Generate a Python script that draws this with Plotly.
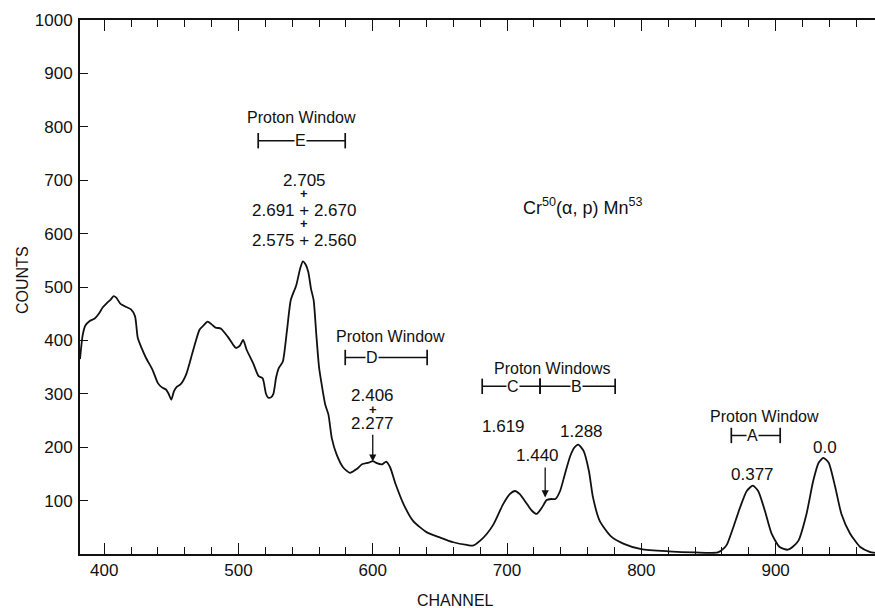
import plotly.graph_objects as go

# Proton spectrum from Cr50(alpha, p) Mn53: counts per analyser channel
channel = [382, 384, 386, 389, 393, 396, 399, 402, 405, 407, 409, 412, 416, 420, 423,
           425, 428, 431, 436, 440, 443, 446, 448, 450, 452, 454, 457, 461, 466, 471,
           474, 477, 480, 483, 487, 492, 496, 498, 501, 503.5, 506, 511, 515, 518, 520.5,
           522, 524, 526, 528, 530, 533, 536, 539, 543, 546, 548, 550, 552, 554, 556,
           558, 560, 562, 564.6, 567, 569.5, 573, 578, 583, 588, 592, 597, 600, 603, 607,
           610, 613, 617, 623, 630, 640, 650, 660, 670, 675, 680, 685, 690, 697, 702,
           706, 709.5, 715, 718.5, 722, 726, 729.5, 733, 736, 739.5, 743, 747, 750, 753,
           757, 761, 764, 769, 777, 787, 800, 820, 840, 857, 862, 864, 868.5, 873.5,
           878.5, 883, 887, 892, 897, 903, 909, 913, 917, 923, 928, 932, 935.5, 939.5,
           944.5, 949, 955.5, 963, 970, 974]
counts = [365, 410, 428, 436, 441, 450, 462, 470, 477, 483, 480, 469, 463, 458, 445,
          405, 385, 368, 345, 320, 312, 308, 300, 289, 305, 313, 318, 336, 379, 420,
          428, 435, 430, 424, 422, 407, 392, 386, 390, 401, 383, 357, 333, 329, 300,
          293, 293, 300, 330, 348, 360, 416, 476, 503, 535, 548, 542, 528, 497, 475,
          410, 350, 317, 280, 261, 217, 187, 162, 152, 159, 168, 171, 174, 170, 168,
          173, 162, 131, 93, 62, 41, 31, 22, 17, 16, 25, 38, 56, 93, 112,
          118, 112, 93, 81, 75, 87, 101, 103, 103, 118, 149, 183, 199, 205,
          193, 155, 106, 62, 34, 19, 9, 5, 3, 3, 12, 19, 50, 87,
          118, 128, 118, 81, 38, 13, 8, 14, 25, 75, 137, 171, 180, 171,
          124, 75, 38, 13, 4, 2]

# Excitation-energy labels (MeV) placed over the peaks
level_x = [549, 549, 549, 600, 600, 697, 723, 755.7, 883, 936.4]
level_y = [700, 644, 588, 297, 245, 239, 185, 230, 149, 199]
level_text = ["2.705", "2.691 + 2.670", "2.575 + 2.560", "2.406", "2.277",
              "1.619", "1.440", "1.288", "0.377", "0.0"]
plus_x = [549, 549, 600]
plus_y = [675, 619, 271]

# Proton windows: start/end channels, bar height, letter and its position
win_start = [514.7, 579.5, 681.5, 724.6, 867.0]
win_end = [579.5, 640.5, 724.6, 780.5, 903.4]
win_y = [774, 368, 314, 314, 222]
win_letter = ["E", "D", "C", "B", "A"]
win_letter_x = [546, 599.6, 704.6, 752, 882.6]
title_x = [547, 613, 733.6, 892]
title_y = [817, 407, 348, 258]
title_text = ["Proton Window", "Proton Window", "Proton Windows", "Proton Window"]

# Arrows: channel, tail count, head count
arrow_x = [600, 728.4]
arrow_from = [226, 165]
arrow_to = [173, 106]

FONT = "Liberation Sans"
INK = "#111111"

W, H = 875, 608
ML, MR, MT, MB = 80, 0, 20, 54


def paper_xy(px, py):
    """Pixel position in the page -> paper coordinates of the plot area."""
    return ((px - ML) / (W - ML - MR), (H - MB - py) / (H - MB - MT))


fig = go.Figure()

fig.add_trace(go.Scatter(
    x=channel, y=counts, mode="lines",
    line=dict(color=INK, width=1.8, shape="spline", smoothing=0.6),
    hoverinfo="skip", showlegend=False))

# window bars with end caps
for s, e, y in zip(win_start, win_end, win_y):
    fig.add_trace(go.Scatter(
        x=[s, e], y=[y, y], mode="lines+markers",
        line=dict(color=INK, width=1.4),
        marker=dict(symbol="line-ns", size=11, line=dict(color=INK, width=1.7)),
        hoverinfo="skip", showlegend=False))

annotations = []
for x, y, t in zip(level_x, level_y, level_text):
    annotations.append(dict(x=x, y=y, text=t, showarrow=False,
                            font=dict(family=FONT, size=17, color=INK)))
for x, y in zip(plus_x, plus_y):
    annotations.append(dict(x=x, y=y, text="<b>+</b>", showarrow=False,
                            font=dict(family=FONT, size=13, color=INK)))
for x, y, t in zip(title_x, title_y, title_text):
    annotations.append(dict(x=x, y=y, text=t, showarrow=False,
                            font=dict(family=FONT, size=16, color=INK)))
for x, y, t in zip(win_letter_x, win_y, win_letter):
    annotations.append(dict(x=x, y=y, text=t, showarrow=False, bgcolor="white",
                            borderpad=0,
                            font=dict(family=FONT, size=16, color=INK)))
for x, y0, y1 in zip(arrow_x, arrow_from, arrow_to):
    annotations.append(dict(x=x, y=y1, ax=x, ay=y0, axref="x", ayref="y",
                            xref="x", yref="y", text="", showarrow=True,
                            arrowhead=2, arrowsize=1.1, arrowwidth=1.3,
                            arrowcolor=INK))
annotations.append(dict(x=756, y=650, showarrow=False,
                        text="Cr<sup>50</sup>(α, p) Mn<sup>53</sup>",
                        font=dict(family=FONT, size=18, color=INK)))

cx, cy = paper_xy(22, 280)
annotations.append(dict(x=cx, y=cy, xref="paper", yref="paper", showarrow=False,
                        xanchor="center", yanchor="middle",
                        text="COUNTS", textangle=-90,
                        font=dict(family=FONT, size=16, color=INK)))
hx, hy = paper_xy(455, 600)
annotations.append(dict(x=hx, y=hy, xref="paper", yref="paper", showarrow=False,
                        xanchor="center", yanchor="middle",
                        text="CHANNEL",
                        font=dict(family=FONT, size=16, color=INK)))

fig.update_layout(
    width=W, height=H,
    margin=dict(l=ML, r=MR, t=MT, b=MB),
    paper_bgcolor="white", plot_bgcolor="white",
    annotations=annotations,
    font=dict(family=FONT, color=INK),
    xaxis=dict(range=[382, 974], tickvals=[400, 500, 600, 700, 800, 900],
               ticks="inside", ticklen=11, tickwidth=1.4, tickcolor=INK,
               minor=dict(dtick=20, tick0=0, ticks="inside", ticklen=7,
                          tickwidth=1.2, tickcolor=INK),
               showline=True, linecolor=INK, linewidth=2, mirror="ticks",
               showgrid=False, zeroline=False,
               tickfont=dict(family=FONT, size=17, color=INK)),
    yaxis=dict(range=[0, 1000], tickvals=[100, 200, 300, 400, 500, 600, 700, 800, 900, 1000],
               ticks="inside", ticklen=8, tickwidth=1.4, tickcolor=INK,
               showline=True, linecolor=INK, linewidth=2, mirror=False,
               showgrid=False, zeroline=False, ticklabelstandoff=2,
               tickfont=dict(family=FONT, size=17, color=INK)),
)

fig.write_html("out.html")
